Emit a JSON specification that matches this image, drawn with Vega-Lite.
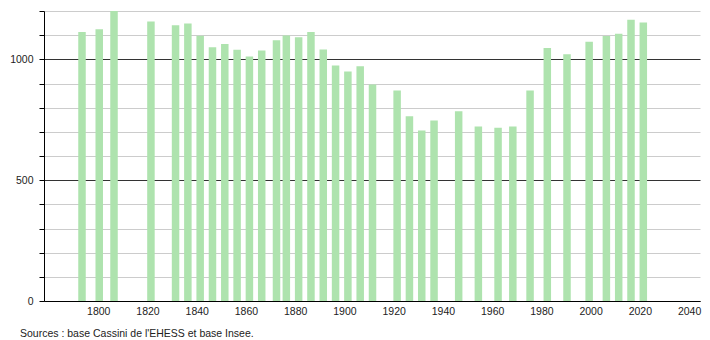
{
  "$schema": "https://vega.github.io/schema/vega-lite/v6.json",
  "width": 656,
  "height": 290,
  "autosize": {"type": "none"},
  "padding": {"left": 44, "top": 11, "right": 10, "bottom": 39},
  "background": "white",
  "config": {
    "view": {"stroke": null},
    "font": "Liberation Sans"
  },
  "title": {
    "text": "Sources : base Cassini de l'EHESS et base Insee.",
    "orient": "bottom",
    "anchor": "start",
    "frame": "group",
    "dx": -24,
    "offset": 12,
    "fontSize": 10.5,
    "fontWeight": "normal",
    "color": "#222222",
    "font": "Liberation Sans"
  },
  "data": {
    "values": [
      {"year": 1793, "population": 1113},
      {"year": 1800, "population": 1124},
      {"year": 1806, "population": 1203},
      {"year": 1821, "population": 1157},
      {"year": 1831, "population": 1141},
      {"year": 1836, "population": 1148},
      {"year": 1841, "population": 1098},
      {"year": 1846, "population": 1050},
      {"year": 1851, "population": 1063},
      {"year": 1856, "population": 1040},
      {"year": 1861, "population": 1012},
      {"year": 1866, "population": 1037},
      {"year": 1872, "population": 1079},
      {"year": 1876, "population": 1099},
      {"year": 1881, "population": 1091},
      {"year": 1886, "population": 1113},
      {"year": 1891, "population": 1041},
      {"year": 1896, "population": 975},
      {"year": 1901, "population": 950},
      {"year": 1906, "population": 971},
      {"year": 1911, "population": 896},
      {"year": 1921, "population": 871},
      {"year": 1926, "population": 765},
      {"year": 1931, "population": 706},
      {"year": 1936, "population": 747},
      {"year": 1946, "population": 785},
      {"year": 1954, "population": 722},
      {"year": 1962, "population": 717},
      {"year": 1968, "population": 722},
      {"year": 1975, "population": 871},
      {"year": 1982, "population": 1047},
      {"year": 1990, "population": 1021},
      {"year": 1999, "population": 1073},
      {"year": 2006, "population": 1097},
      {"year": 2011, "population": 1106},
      {"year": 2016, "population": 1164},
      {"year": 2021, "population": 1152}
    ]
  },
  "mark": {"type": "bar", "size": 7.5, "color": "#aee3ae", "xOffset": 1, "clip": true},
  "encoding": {
    "x": {
      "field": "year",
      "type": "quantitative",
      "scale": {"domain": [1780, 2042.4], "nice": false, "zero": false},
      "axis": {
        "title": null,
        "values": [1800, 1820, 1840, 1860, 1880, 1900, 1920, 1940, 1960, 1980, 2000, 2020, 2040],
        "format": "d",
        "ticks": false,
        "grid": false,
        "domainColor": "#000000",
        "domainWidth": 1,
        "labelPadding": 5,
        "labelFontSize": 10.5,
        "labelColor": "#222222",
        "labelFont": "Liberation Sans",
        "zindex": 0
      }
    },
    "y": {
      "field": "population",
      "type": "quantitative",
      "scale": {"domain": [0, 1200], "nice": false},
      "axis": {
        "title": null,
        "values": [0, 100, 200, 300, 400, 500, 600, 700, 800, 900, 1000, 1100, 1200],
        "labelExpr": "datum.value % 500 == 0 ? datum.label : ''",
        "format": "d",
        "ticks": true,
        "tickSize": 5,
        "tickColor": "#000000",
        "domainColor": "#000000",
        "grid": true,
        "gridColor": {"condition": {"test": "datum.value % 500 == 0", "value": "#333333"}, "value": "#cccccc"},
        "gridWidth": 1,
        "labelPadding": 6,
        "labelFontSize": 10.5,
        "labelColor": "#222222",
        "labelFont": "Liberation Sans",
        "zindex": 0
      }
    }
  }
}
